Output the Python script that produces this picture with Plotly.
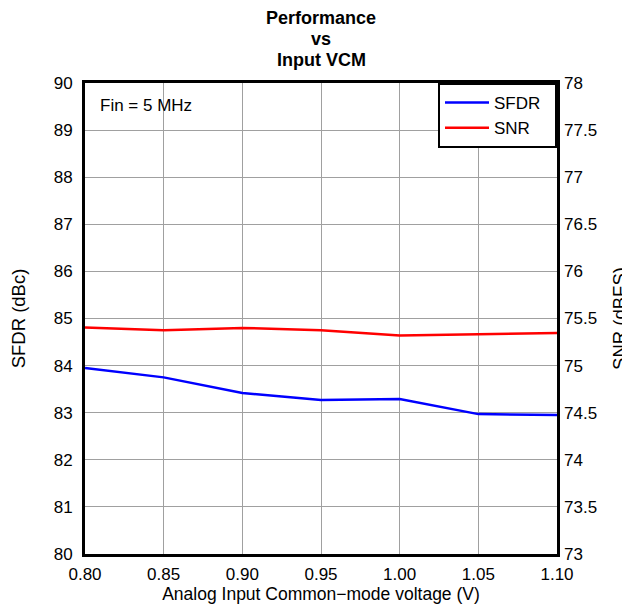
import plotly.graph_objects as go

vcm = [0.80, 0.85, 0.90, 0.95, 1.00, 1.05, 1.10]
sfdr = [83.95, 83.75, 83.42, 83.27, 83.29, 82.97, 82.95]
snr = [75.405, 75.375, 75.40, 75.375, 75.32, 75.335, 75.345]
title_lines = ["Performance", "vs", "Input VCM"]

fig = go.Figure()
fig.add_trace(go.Scatter(x=vcm, y=sfdr, mode="lines", name="SFDR\u00a0\u00a0",
                         line=dict(color="#0000ff", width=2.5)))
fig.add_trace(go.Scatter(x=vcm, y=snr, mode="lines", name="SNR", yaxis="y2",
                         line=dict(color="#ff0000", width=2.5)))

font = "Liberation Sans, Arial, sans-serif"
W, H = 622, 596
ML, MR, MT, MB = 77, 73, 75, 50
PH = H - MT - MB

def py(fy):
    # figure pixel y (from top) -> paper y
    return 1 + (MT - fy) / PH

annots = []
for i, t in enumerate(title_lines):
    annots.append(dict(text="<b>%s</b>" % t, xref="paper", yref="paper", x=0.5,
                       y=py(10 + 21 * i), xanchor="center", yanchor="middle",
                       showarrow=False, font=dict(size=18, family=font)))
annots.append(dict(text="Fin = 5 MHz", xref="paper", yref="paper", x=0.028, y=py(97),
                   xanchor="left", yanchor="middle", showarrow=False,
                   font=dict(size=17, family=font)))

fig.update_layout(
    width=W, height=H,
    margin=dict(l=ML, r=MR, t=MT, b=MB),
    paper_bgcolor="white", plot_bgcolor="white",
    font=dict(family=font, color="black", size=17),
    xaxis=dict(range=[0.80, 1.10], dtick=0.05, tickformat=".2f",
               showgrid=True, gridcolor="#a0a0a0", gridwidth=1,
               showline=True, linecolor="black", linewidth=3, mirror=True,
               ticks="", tickfont=dict(size=17), ticklabelstandoff=3,
               title=dict(text="Analog Input Common\u2212mode voltage (V)", font=dict(size=17.5), standoff=2),
               zeroline=False, automargin=False),
    yaxis=dict(range=[80, 90], dtick=1, showgrid=True, gridcolor="#a0a0a0", gridwidth=1,
               showline=True, linecolor="black", linewidth=3, mirror=True,
               ticks="", tickfont=dict(size=17), ticklabelstandoff=6,
               title=dict(text="SFDR (dBc)", font=dict(size=18.5), standoff=24),
               zeroline=False, automargin=False),
    yaxis2=dict(range=[73, 78], dtick=0.5, overlaying="y", side="right",
                showgrid=False, ticks="", tickfont=dict(size=17), ticklabelstandoff=6,
                title=dict(text="SNR (dBFS)", font=dict(size=18.5), standoff=20),
                zeroline=False, automargin=False),
    legend=dict(x=1, xanchor="right", y=1, yanchor="top",
                bordercolor="black", borderwidth=2, bgcolor="white",
                font=dict(size=17), itemwidth=44, tracegroupgap=0),
    annotations=annots,
)

fig.write_html("out.html")
